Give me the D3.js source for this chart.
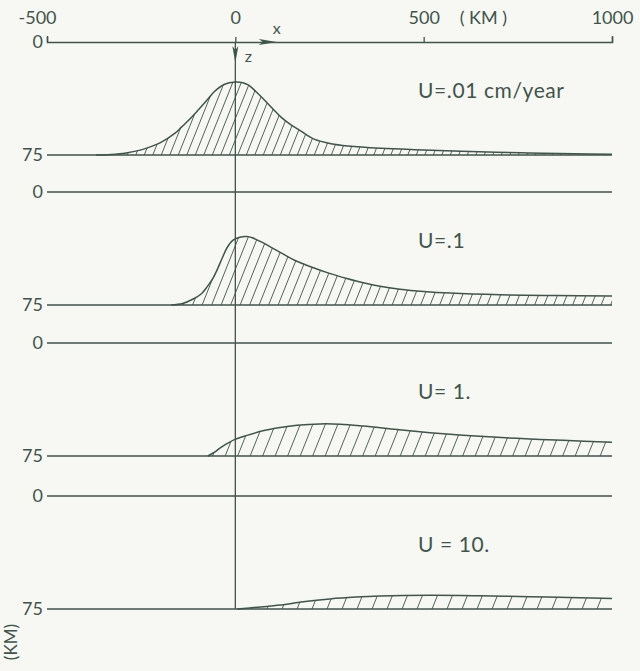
<!DOCTYPE html>
<html>
<head>
<meta charset="utf-8">
<script src="https://cdn.jsdelivr.net/npm/d3@7"></script>
<style>
  html, body { margin: 0; padding: 0; background: #f7f7f3; }
  svg text { font-family: Lato, "Open Sans", "DejaVu Sans", sans-serif; font-weight: 400; fill: #3f554b; }
</style>
</head>
<body>
<figure id="chart" style="margin:0"></figure>
<script>
// horizontal distance (km) and depth (km)
const xTicks = [-500, 0, 500, 1000];
const panelLabels = ["U=.01 cm/year", "U=.1", "U= 1.", "U = 10."];

const profile01 = [
  [-370, 75], [-330, 74.6], [-290, 73.6], [-250, 71.6], [-200, 67], [-160, 60.5], [-143, 56.5],
  [-120, 51], [-98, 45], [-75, 38.5], [-56, 33], [-30, 28.2], [0, 26.5], [20, 27], [34, 28.5],
  [55, 33], [77, 38.5], [100, 44.5], [122, 50], [145, 54.5], [167, 58], [190, 61.8], [209, 64.5],
  [254, 67.5], [299, 69], [386, 70.5], [500, 71.6], [600, 72.5], [760, 73.5], [900, 74.2], [1000, 74.5]
];
const profile1 = [
  [-170, 75], [-140, 74], [-112, 71], [-90, 67.5], [-75, 63], [-60, 57.5], [-49, 52], [-35, 44],
  [-22, 37], [-6, 32], [12, 30], [30, 29.6], [45, 30.4], [73, 33.6], [100, 37.4], [130, 41.6],
  [160, 45.6], [200, 49.6], [250, 54], [296, 57.4], [340, 60.3], [384, 62.6],
  [437, 64.5], [500, 66], [570, 67.1], [703, 68.2], [850, 68.7], [1000, 69]
];
const profile10 = [
  [-73, 75], [-55, 72.5], [-41, 69.8], [-20, 66.5], [-1, 64], [31, 61.3], [73, 58.3], [119, 56.1],
  [164, 54.6], [225, 53.7], [278, 53.9], [339, 55.1], [429, 57.4], [517, 59.5], [604, 61.2],
  [695, 62.6], [782, 63.7], [870, 64.6], [1000, 65.8]
];
const profile100 = [
  [5, 75], [60, 73.8], [119, 72.4], [180, 70.2], [251, 68.3], [320, 67.1], [384, 66.4], [517, 65.9],
  [650, 66.2], [782, 66.8], [915, 67.5], [1000, 68]
];
const profiles = [profile01, profile1, profile10, profile100];

const ink = "#3f554b";
const width = 640, height = 671;
const panelTops = [42, 192, 343, 496];
const panelHeight = 113;
const hatchGap = [8.5, 9.5, 12.5, 15];

const svg = d3.select("figure#chart")
  .append("svg")
  .attr("width", width)
  .attr("height", height);

const defs = svg.append("defs");

const x = d3.scaleLinear()
  .domain([-500, 1000])
  .range([47, 612]);

// top distance axis, outer ticks give the little hooks at both ends
const topAxis = svg.append("g")
  .attr("transform", "translate(0," + panelTops[0] + ")")
  .call(d3.axisTop(x).tickValues(xTicks).tickSize(5).tickSizeOuter(6).tickPadding(13).tickFormat(d => String(d)));
topAxis.select(".domain").attr("stroke", ink).attr("stroke-width", 1.5).attr("fill", "none");
topAxis.selectAll(".tick line").attr("stroke", ink).attr("stroke-width", 1.3);
topAxis.selectAll(".tick text")
  .attr("fill", ink)
  .style("font-size", "18px")
  .style("font-family", "Lato, 'Open Sans', sans-serif");
topAxis.selectAll(".tick text").filter(d => d === -500).attr("dx", -10);

svg.append("text")
  .attr("x", x(500) + 36)
  .attr("y", panelTops[0] - 18)
  .style("font-size", "18px")
  .text("( KM )");

// x arrow and label
const arrowX = x(110);
svg.append("path")
  .attr("d", d3.line()([[arrowX, panelTops[0]], [arrowX - 18, panelTops[0] - 3], [arrowX - 14, panelTops[0]], [arrowX - 18, panelTops[0] + 3]]) + "Z")
  .attr("fill", ink);
svg.append("text")
  .attr("x", arrowX)
  .attr("y", panelTops[0] - 8)
  .attr("text-anchor", "middle")
  .style("font-size", "16px")
  .text("x");

// vertical x=0 line through all panels
const z0 = d3.scaleLinear().domain([0, 75]).range([panelTops[0], panelTops[0] + panelHeight]);
const lastZ = d3.scaleLinear().domain([0, 75]).range([panelTops[3], panelTops[3] + panelHeight]);
svg.append("line")
  .attr("x1", x(0)).attr("x2", x(0))
  .attr("y1", z0(0)).attr("y2", lastZ(75))
  .attr("stroke", ink).attr("stroke-width", 1.3);

// z arrow and label
const tipZ = z0(14);
svg.append("path")
  .attr("d", d3.line()([[x(0), tipZ], [x(0) - 3, tipZ - 17], [x(0), tipZ - 13], [x(0) + 3, tipZ - 17]]) + "Z")
  .attr("fill", ink);
svg.append("text")
  .attr("x", x(0) + 13)
  .attr("y", tipZ - 1)
  .attr("text-anchor", "middle")
  .style("font-size", "16px")
  .text("z");

svg.append("text")
  .attr("x", 43)
  .attr("y", z0(0))
  .attr("dy", "0.35em")
  .attr("text-anchor", "end")
  .style("font-size", "18px")
  .text("0");

profiles.forEach((data, i) => {
  const z = d3.scaleLinear()
    .domain([0, 75])
    .range([panelTops[i], panelTops[i] + panelHeight]);

  // depth 0 line (first panel uses the distance axis)
  if (i > 0) {
    svg.append("line")
      .attr("x1", x(-500)).attr("x2", x(1000))
      .attr("y1", z(0)).attr("y2", z(0))
      .attr("stroke", ink).attr("stroke-width", 1.5);
    svg.append("text")
      .attr("x", 43)
      .attr("y", z(0))
      .attr("dy", "0.35em")
      .attr("text-anchor", "end")
      .style("font-size", "18px")
      .text("0");
  }

  // depth 75 line
  svg.append("line")
    .attr("x1", x(-500)).attr("x2", x(1000))
    .attr("y1", z(75)).attr("y2", z(75))
    .attr("stroke", ink).attr("stroke-width", 1.5);
  svg.append("text")
    .attr("x", 43)
    .attr("y", z(75))
    .attr("dy", "0.35em")
    .attr("text-anchor", "end")
    .style("font-size", "18px")
    .text("75");

  const area = d3.area()
    .x(d => x(d[0]))
    .y0(z(75))
    .y1(d => z(d[1]))
    .curve(d3.curveCatmullRom.alpha(0.5));

  defs.append("clipPath")
    .attr("id", "clip" + i)
    .append("path")
    .attr("d", area(data));

  // diagonal hatching inside the profile
  const bottom = z(75), top = z(0);
  const lean = 0.4 * (bottom - top);
  const starts = d3.range(x(data[0][0]) - lean, x(1000), hatchGap[i]);
  svg.append("g")
    .attr("clip-path", "url(#clip" + i + ")")
    .selectAll("line")
    .data(starts)
    .enter()
    .append("line")
    .attr("x1", d => d)
    .attr("y1", bottom)
    .attr("x2", d => d + lean)
    .attr("y2", top)
    .attr("stroke", ink)
    .attr("stroke-width", 0.9);

  const line = d3.line()
    .x(d => x(d[0]))
    .y(d => z(d[1]))
    .curve(d3.curveCatmullRom.alpha(0.5));

  svg.append("path")
    .attr("d", line(data))
    .attr("fill", "none")
    .attr("stroke", ink)
    .attr("stroke-width", 1.5);

  svg.append("text")
    .attr("x", 418)
    .attr("y", z(0) + 49)
    .attr("dy", "0.35em")
    .style("font-size", "21px")
    .style("letter-spacing", "0.6px")
    .text(panelLabels[i]);
});

// depth unit, cut at the bottom edge as in the scan
svg.append("text")
  .attr("transform", "translate(17," + (lastZ(75) + 15) + ") rotate(-90)")
  .attr("text-anchor", "end")
  .style("font-size", "17px")
  .text("(KM)");
</script>
</body>
</html>
